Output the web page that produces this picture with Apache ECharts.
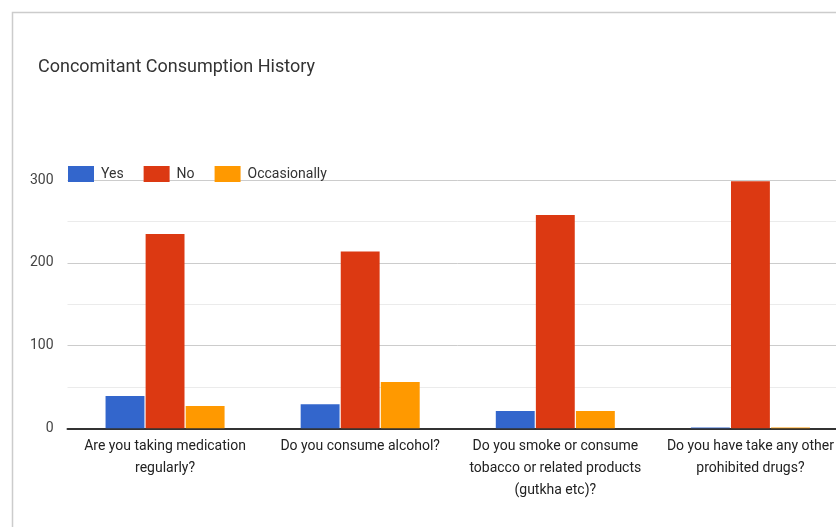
<!DOCTYPE html>
<html>
<head>
<meta charset="utf-8">
<script src="https://cdn.jsdelivr.net/npm/echarts@6/dist/echarts.min.js"></script>
<style>
  html, body { margin: 0; padding: 0; background: #fff; overflow: hidden; }
  #chart { width: 848px; height: 527px; }
</style>
</head>
<body>
<div id="chart"></div>
<script>
// Survey questions (x axis) and answer counts per response
const categories = [
  'Are you taking medication\nregularly?',
  'Do you consume alcohol?',
  'Do you smoke or consume\ntobacco or related products\n(gutkha etc)?',
  'Do you have take any other\nprohibited drugs?'
];
const seriesNames = ['Yes', 'No', 'Occasionally'];
const yesValues = [39, 29, 21, 1];
const noValues = [235, 214, 258, 299];
const occasionallyValues = [27, 56, 21, 1];
const yTicks = [0, 100, 200, 300];

const colors = ['#3366cc', '#dc3912', '#ff9900'];
const valueSets = [yesValues, noValues, occasionallyValues];

// The chart canvas runs a little past the right edge of the page, so the last group is cut off.
const chart = echarts.init(document.getElementById('chart'), null, { renderer: 'canvas' });

chart.setOption({
  animation: false,
  backgroundColor: '#ffffff',
  color: colors,
  textStyle: { fontFamily: 'Roboto, Arial, sans-serif' },
  graphic: [{
    type: 'rect',
    shape: { x: 12.5, y: 12.5, width: 900, height: 600 },
    style: { fill: 'none', stroke: '#cccccc', lineWidth: 1.5 },
    silent: true,
    z: -10
  }],
  title: {
    text: 'Concomitant Consumption History',
    left: 33,
    top: 53,
    textStyle: { fontSize: 18, fontWeight: 'normal', color: '#333333', fontFamily: 'Roboto, Arial, sans-serif' }
  },
  legend: {
    data: seriesNames,
    left: 63,
    top: 161,
    itemWidth: 26,
    itemHeight: 16,
    itemGap: 20,
    icon: 'rect',
    textStyle: { fontSize: 14, color: '#333333', padding: [0, 0, 0, 2] }
  },
  grid: {
    left: 67.5,
    top: 180.3,
    right: 0,
    height: 248,
    containLabel: false
  },
  xAxis: {
    type: 'category',
    data: categories,
    axisTick: { show: false },
    axisLine: { show: true, lineStyle: { color: '#333333', width: 2 } },
    axisLabel: {
      interval: 0,
      margin: 7,
      fontSize: 14,
      lineHeight: 22,
      color: '#222222'
    }
  },
  yAxis: {
    type: 'value',
    min: yTicks[0],
    max: yTicks[yTicks.length - 1],
    interval: 100,
    axisLine: { show: false },
    axisTick: { show: false },
    axisLabel: { fontSize: 14, color: '#444444', margin: 14 },
    splitLine: { lineStyle: { color: '#cccccc', width: 1 } },
    minorTick: { show: false, splitNumber: 2 },
    minorSplitLine: { show: true, lineStyle: { color: '#ebebeb', width: 1 } }
  },
  series: seriesNames.map((name, i) => ({
    name: name,
    type: 'bar',
    data: valueSets[i],
    barGap: '3%',
    barCategoryGap: '39%',
    itemStyle: { color: colors[i] }
  }))
});
</script>
</body>
</html>
